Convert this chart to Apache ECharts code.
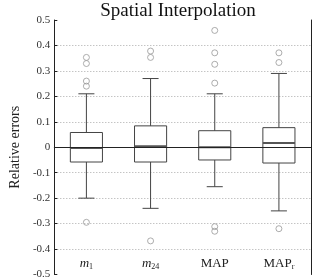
<!DOCTYPE html>
<html>
<head>
<meta charset="utf-8">
<script src="https://cdn.jsdelivr.net/npm/echarts@6/dist/echarts.min.js"></script>
<style>
  html, body { margin: 0; padding: 0; background: #fff; }
  #chart { width: 313px; height: 280px; }
</style>
</head>
<body>
<div id="chart"></div>
<script>
// data
var categories = ['m1', 'm24', 'MAP', 'MAP_r'];
var lowerWhisker = [-0.20, -0.24, -0.155, -0.25];
var q1 = [-0.058, -0.058, -0.05, -0.062];
var median = [-0.003, 0.004, 0.0, 0.017];
var q3 = [0.058, 0.084, 0.065, 0.077];
var upperWhisker = [0.21, 0.27, 0.21, 0.29];
var outliers = [
    [0.353, 0.329, 0.26, 0.24, -0.295],
    [0.378, 0.353, -0.368],
    [0.459, 0.371, 0.326, 0.252, -0.312, -0.33],
    [0.371, 0.333, -0.32]
];

var serif = "'Liberation Serif', 'Times New Roman', serif";

var boxData = categories.map(function (c, i) {
    return [i, lowerWhisker[i], q1[i], median[i], q3[i], upperWhisker[i]];
});
var outlierData = [];
outliers.forEach(function (list, i) {
    list.forEach(function (v) { outlierData.push([categories[i], v]); });
});

// box, median, whiskers and half-width caps
function renderBox(params, api) {
    var x = api.value(0);
    var lo = api.coord([x, api.value(1)]);
    var b1 = api.coord([x, api.value(2)]);
    var md = api.coord([x, api.value(3)]);
    var b3 = api.coord([x, api.value(4)]);
    var hi = api.coord([x, api.value(5)]);
    var w = api.size([1, 0])[0] * 0.5;
    var cx = lo[0];
    var line = { stroke: '#444', lineWidth: 1, fill: null };
    return {
        type: 'group',
        children: [
            { type: 'rect', shape: { x: cx - w / 2, y: b3[1], width: w, height: b1[1] - b3[1] }, style: line },
            { type: 'line', shape: { x1: cx, y1: b3[1], x2: cx, y2: hi[1] }, style: line },
            { type: 'line', shape: { x1: cx, y1: b1[1], x2: cx, y2: lo[1] }, style: line },
            { type: 'line', shape: { x1: cx - w / 4, y1: hi[1], x2: cx + w / 4, y2: hi[1] }, style: line },
            { type: 'line', shape: { x1: cx - w / 4, y1: lo[1], x2: cx + w / 4, y2: lo[1] }, style: line },
            { type: 'line', shape: { x1: cx - w / 2, y1: md[1], x2: cx + w / 2, y2: md[1] }, style: { stroke: '#555', lineWidth: 2 } }
        ]
    };
}

function catLabel(name) {
    if (name.charAt(0) === 'm') return '{it|m}{sub|' + name.slice(1) + '}';
    var p = name.split('_');
    return p.length > 1 ? p[0] + '{sub|' + p[1] + '}' : name;
}

var myChart = echarts.init(document.getElementById('chart'));
var option = {
    animation: false,
    title: {
        text: 'Spatial Interpolation',
        left: 173,
        textAlign: 'center',
        top: -3,
        textStyle: { fontFamily: serif, fontSize: 19, fontWeight: 'normal', color: '#111' }
    },
    grid: { left: 36, right: 2, top: 20, bottom: 2 },
    xAxis: [{
        type: 'category',
        data: categories,
        position: 'bottom',
        axisLine: { lineStyle: { color: '#222' } },
        axisTick: { inside: true, alignWithLabel: true, length: 4, lineStyle: { color: '#222' } },
        axisLabel: {
            inside: true,
            interval: 0,
            margin: 4,
            formatter: catLabel,
            color: '#222',
            fontFamily: serif,
            fontSize: 13,
            rich: {
                it: { fontFamily: serif, fontSize: 13, fontStyle: 'italic', color: '#222' },
                sub: { fontFamily: serif, fontSize: 8, color: '#222', padding: [6, 0, 0, 0] }
            }
        },
        splitLine: { show: false }
    }, {
        type: 'category',
        data: categories,
        position: 'top',
        axisLine: { show: false },
        axisTick: { inside: true, alignWithLabel: true, length: 4, lineStyle: { color: '#222' } },
        axisLabel: { show: false }
    }],
    yAxis: [{
        type: 'value',
        min: -0.5,
        max: 0.5,
        interval: 0.1,
        name: 'Relative errors',
        nameLocation: 'middle',
        nameGap: 28,
        nameTextStyle: { fontFamily: serif, fontSize: 14, color: '#222' },
        axisLine: { show: true, lineStyle: { color: '#222' } },
        axisTick: { show: true, inside: true, length: 3, lineStyle: { color: '#222' } },
        axisLabel: { fontFamily: serif, fontSize: 11, color: '#333', margin: 4 },
        splitLine: {
            show: true,
            showMinLine: false,
            showMaxLine: false,
            lineStyle: { color: '#aaa', type: [1, 2], width: 1 }
        }
    }, {
        type: 'value',
        min: -0.5,
        max: 0.5,
        interval: 0.1,
        position: 'right',
        axisLine: { show: true, lineStyle: { color: '#222' } },
        axisTick: { show: false },
        axisLabel: { show: false },
        splitLine: { show: false }
    }],
    series: [{
        type: 'custom',
        renderItem: renderBox,
        data: boxData,
        encode: { x: 0, y: [1, 2, 3, 4, 5] },
        z: 3,
        markLine: {
            silent: true,
            symbol: ['none', 'none'],
            label: { show: false },
            lineStyle: { color: '#222', type: 'solid', width: 1 },
            data: [{ yAxis: 0 }]
        }
    }, {
        type: 'scatter',
        xAxisIndex: 0,
        yAxisIndex: 0,
        data: outlierData,
        symbol: 'circle',
        symbolSize: 6,
        itemStyle: { color: 'rgba(255,255,255,0)', borderColor: '#999', borderWidth: 1 },
        z: 4
    }]
};
myChart.setOption(option);
</script>
</body>
</html>
